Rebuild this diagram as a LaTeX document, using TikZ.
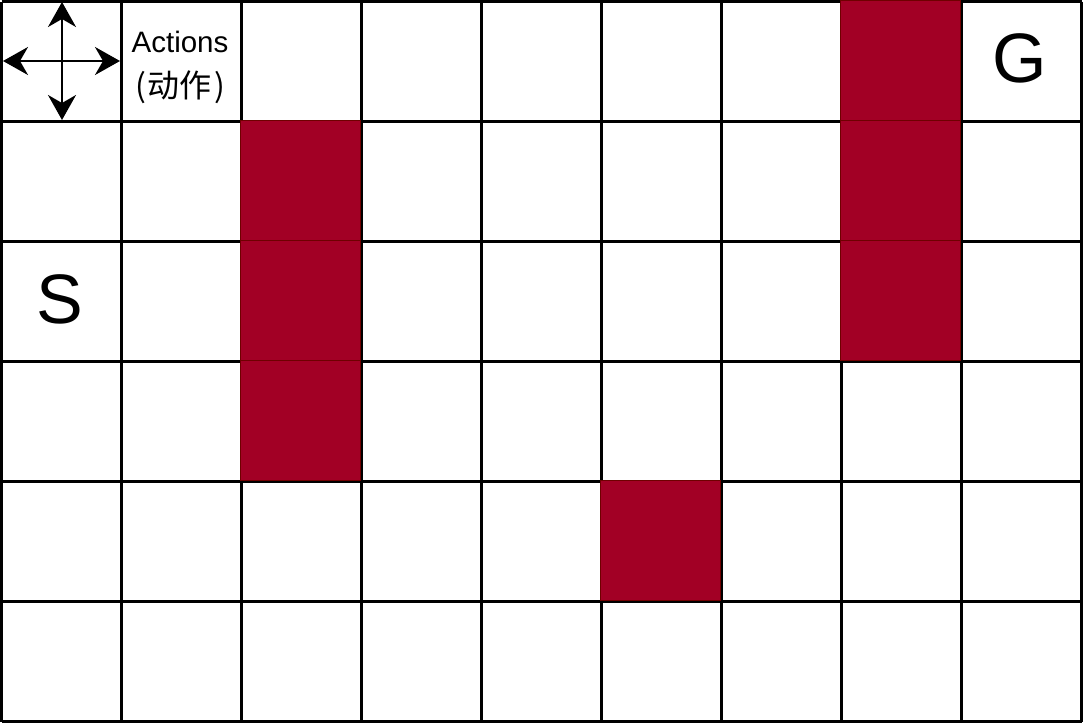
\documentclass[tikz,border=0pt]{standalone}
\usepackage{fontspec}
\setmainfont{Liberation Sans}
\newfontfamily\cjk{Noto Sans CJK SC}
\usetikzlibrary{arrows.meta}
\definecolor{wallfill}{HTML}{A20025}
\definecolor{walledge}{HTML}{6F0000}
\tikzset{
  gridline/.style={line width=2.5pt, black},
  wall/.style={fill=wallfill, draw=walledge, line width=1.5pt},
  actarrow/.style={line width=2.2pt, {Stealth[length=25pt,width=28pt,inset=8pt]}-{Stealth[length=25pt,width=28pt,inset=8pt]}},
  big/.style={font=\fontsize{70}{84}\selectfont, inner sep=0pt, anchor=base}
}
\begin{document}
\begin{tikzpicture}[x=1pt,y=-1pt]
\useasboundingbox (0,0) rectangle (1083,723);
\fill[white] (0,0) rectangle (1083,723);
% grid lines
\foreach \i in {0,...,9} {
  \draw[gridline] (1.5+120*\i,1.5) -- (1.5+120*\i,721.5);
}
\foreach \j in {0,...,6} {
  \draw[gridline] (1.5,1.5+120*\j) -- (1081.5,1.5+120*\j);
}
% walls
\foreach \c/\r in {7/0,7/1,7/2,2/1,2/2,2/3,5/4} {
  \draw[wall] (0.5+120*\c,0.5+120*\r) rectangle (120.5+120*\c,120.5+120*\r);
}
% action arrows
\coordinate (l) at (3,61);
\coordinate (r) at (120,61);
\coordinate (t) at (62,2);
\coordinate (b) at (62,120);
\draw[actarrow] (l) -- (r);
\draw[actarrow] (t) -- (b);
% text
\node[inner sep=0pt, anchor=base, font=\fontsize{29.5}{35}\selectfont] (act) at (180,52) {Actions};
\node[inner sep=0pt, anchor=base, font=\cjk\fontsize{32}{38}\selectfont] (actcn) at (180,97) {(\kern2pt 动作\kern2pt)};
\node[big] (G) at (1020,82) {G};
\node[big] (S) at (60,323) {S};
\end{tikzpicture}
\end{document}
